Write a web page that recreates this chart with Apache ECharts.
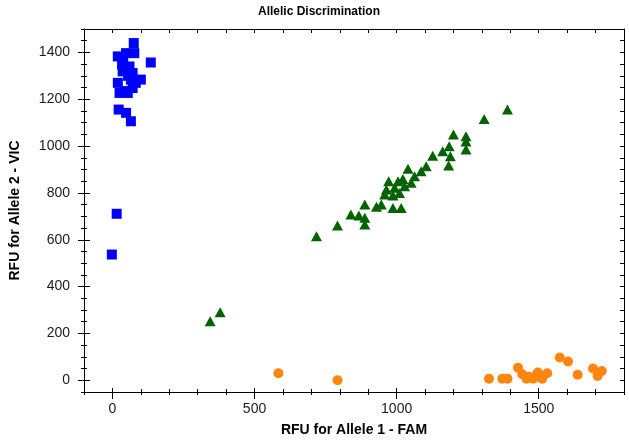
<!DOCTYPE html>
<html>
<head>
<meta charset="utf-8">
<script src="https://cdn.jsdelivr.net/npm/echarts@6/dist/echarts.min.js"></script>
<style>
html,body{margin:0;padding:0;background:#fff;}
#chart{width:629px;height:442px;}
</style>
</head>
<body>
<div id="chart"></div>
<script>
// Allele 2 homozygotes (VIC) - blue squares
const blueX = [75, 19, 48, 77, 135, 34, 60, 36, 71, 19, 65, 100, 71, 25, 54, 22, 48, 65, 15, -2, 38, 55, 45, 82];
const blueY = [1440, 1383, 1397, 1397, 1357, 1348, 1340, 1319, 1312, 1270, 1284, 1284, 1248, 1227, 1227, 1156, 1142, 1106, 711, 537, 1370, 1300, 1235, 1270];
// Heterozygotes - green triangles
const greenX = [1390, 1308, 1200, 1244, 1244, 1244, 1185, 1162, 1127, 1189, 1183, 1104, 1086, 1040, 1063, 1022, 1005, 972, 1051, 1028, 964, 993, 958, 987, 1010, 888, 946, 929, 987, 1016, 839, 867, 888, 888, 792, 718, 344, 379];
const greenY = [1156, 1116, 1049, 1042, 1020, 985, 999, 978, 959, 957, 917, 914, 893, 903, 871, 860, 850, 850, 843, 829, 815, 822, 793, 789, 800, 751, 751, 741, 736, 736, 708, 704, 694, 665, 661, 615, 252, 290];
// Allele 1 homozygotes (FAM) - orange circles
const orangeX = [584, 792, 1325, 1372, 1390, 1427, 1442, 1457, 1481, 1497, 1512, 1530, 1574, 1603, 1637, 1691, 1722, 1707, 1465, 1490];
const orangeY = [30, 0, 7, 7, 7, 54, 26, 7, 7, 33, 7, 30, 97, 80, 24, 50, 40, 18, 15, 20];

const xTickLabels = [0, 500, 1000, 1500];
const yTickLabels = [0, 200, 400, 600, 800, 1000, 1200, 1400];

const zip = (xs, ys) => xs.map((x, i) => [x, ys[i]]);

const X_MIN = -100, X_MAX = 1800, Y_MIN = -50, Y_MAX = 1500;
const lineStyle = { color: '#000', width: 1 };
const labelStyle = { color: '#1a1a1a', fontFamily: 'Liberation Sans, Arial, sans-serif', fontSize: 14 };

function xAx(opts) {
  return Object.assign({
    type: 'value', min: X_MIN, max: X_MAX, interval: 100, position: 'bottom',
    splitLine: { show: false },
    axisLine: { show: false, onZero: false },
    axisLabel: { show: false },
    axisTick: { show: false }
  }, opts);
}
function yAx(opts) {
  return Object.assign({
    type: 'value', min: Y_MIN, max: Y_MAX, interval: 50, position: 'left',
    splitLine: { show: false },
    axisLine: { show: false, onZero: false },
    axisLabel: { show: false },
    axisTick: { show: false }
  }, opts);
}

const chart = echarts.init(document.getElementById('chart'), null, { renderer: 'canvas' });
chart.setOption({
  animation: false,
  backgroundColor: '#fff',
  title: {
    text: 'Allelic Discrimination',
    left: 253, top: 1,
    textStyle: { fontFamily: 'Liberation Sans, Arial, sans-serif', fontSize: 12, fontWeight: 'bold', color: '#000' }
  },
  grid: { left: 82, right: 5, top: 29, bottom: 49, containLabel: false },
  xAxis: [
    xAx({
      axisLine: { show: true, onZero: false, lineStyle },
      axisTick: { show: true, inside: false, length: 3, lineStyle },
      axisLabel: {
        show: true, margin: 10, ...labelStyle,
        formatter: v => (xTickLabels.indexOf(v) >= 0 ? String(v) : '')
      },
      name: 'RFU for Allele 1 - FAM',
      nameLocation: 'middle', nameGap: 31,
      nameTextStyle: { fontFamily: 'Liberation Sans, Arial, sans-serif', fontSize: 14, fontWeight: 'bold', color: '#000' }
    }),
    xAx({ axisTick: { show: true, inside: true, length: 3, lineStyle } }),
    xAx({ axisTick: { show: true, inside: false, length: 7, lineStyle, customValues: xTickLabels } }),
    xAx({ axisTick: { show: true, inside: true, length: 4, lineStyle, customValues: xTickLabels } }),
    xAx({ position: 'top', axisLine: { show: true, onZero: false, lineStyle }, axisTick: { show: true, inside: true, length: 4, lineStyle } })
  ],
  yAxis: [
    yAx({
      axisLine: { show: true, onZero: false, lineStyle },
      axisTick: { show: true, inside: false, length: 3, lineStyle },
      axisLabel: {
        show: true, margin: 14, ...labelStyle,
        formatter: v => (yTickLabels.indexOf(v) >= 0 ? String(v) : '')
      },
      name: 'RFU for Allele 2 - VIC',
      nameLocation: 'middle', nameGap: 62,
      nameTextStyle: { fontFamily: 'Liberation Sans, Arial, sans-serif', fontSize: 14, fontWeight: 'bold', color: '#000' }
    }),
    yAx({ axisTick: { show: true, inside: true, length: 3, lineStyle } }),
    yAx({ axisTick: { show: true, inside: false, length: 6, lineStyle, customValues: yTickLabels } }),
    yAx({ axisTick: { show: true, inside: true, length: 6, lineStyle, customValues: yTickLabels } }),
    yAx({ position: 'right', axisLine: { show: true, onZero: false, lineStyle }, axisTick: { show: true, inside: true, length: 4, lineStyle } })
  ],
  series: [
    {
      type: 'scatter', name: 'Allele 2', data: zip(blueX, blueY),
      symbol: 'rect', symbolSize: 10,
      itemStyle: { color: '#0000ff', opacity: 1 }
    },
    {
      type: 'scatter', name: 'Heterozygote', data: zip(greenX, greenY),
      symbol: 'triangle', symbolSize: [11, 10],
      itemStyle: { color: '#036303', opacity: 1 }
    },
    {
      type: 'scatter', name: 'Allele 1', data: zip(orangeX, orangeY),
      symbol: 'circle', symbolSize: 10,
      itemStyle: { color: '#ff860d', opacity: 1 }
    }
  ]
});
</script>
</body>
</html>
